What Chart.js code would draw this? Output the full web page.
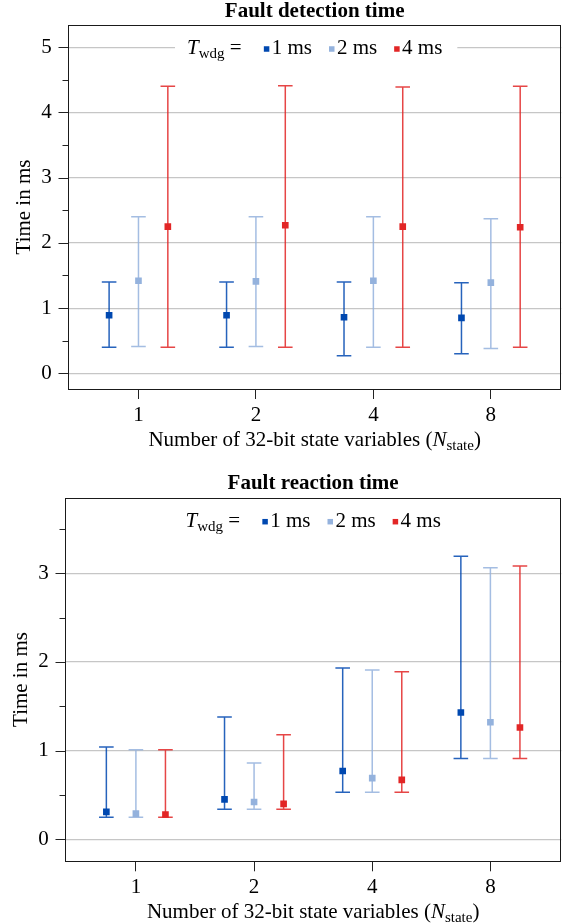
<!DOCTYPE html>
<html>
<head>
<meta charset="utf-8">
<title>Fault detection and reaction time</title>
<script src="https://cdn.jsdelivr.net/npm/chart.js@4.4.1/dist/chart.umd.min.js"></script>
<style>
  body { margin: 0; background: #fff; }
  canvas { display: block; }
</style>
</head>
<body>
<canvas id="det-graph" width="566" height="462"></canvas>
<canvas id="rea-graph" width="566" height="462"></canvas>
<script>
// N_state categories and watchdog periods
var categories = ['1', '2', '4', '8'];
var seriesLabels = ['1 ms', '2 ms', '4 ms'];

// fault detection time (ms): mean, min, max per T_wdg
var det1Mean = [0.89, 0.89, 0.86, 0.85];
var det1Min  = [0.40, 0.40, 0.27, 0.30];
var det1Max  = [1.40, 1.40, 1.40, 1.39];
var det2Mean = [1.42, 1.41, 1.42, 1.39];
var det2Min  = [0.41, 0.41, 0.40, 0.38];
var det2Max  = [2.40, 2.40, 2.40, 2.37];
var det4Mean = [2.25, 2.27, 2.25, 2.24];
var det4Min  = [0.40, 0.40, 0.40, 0.40];
var det4Max  = [4.40, 4.41, 4.39, 4.40];

// fault reaction time (ms)
var rea1Mean = [0.31, 0.45, 0.77, 1.43];
var rea1Min  = [0.25, 0.34, 0.53, 0.91];
var rea1Max  = [1.04, 1.38, 1.93, 3.19];
var rea2Mean = [0.29, 0.42, 0.69, 1.32];
var rea2Min  = [0.25, 0.34, 0.53, 0.91];
var rea2Max  = [1.01, 0.86, 1.91, 3.06];
var rea4Mean = [0.28, 0.40, 0.67, 1.26];
var rea4Min  = [0.25, 0.34, 0.53, 0.91];
var rea4Max  = [1.01, 1.18, 1.89, 3.08];

// y axis ticks
var detMajor = [0, 1, 2, 3, 4, 5];
var detMinor = [0.5, 1.5, 2.5, 3.5, 4.5];
var reaMajor = [0, 1, 2, 3];
var reaMinor = [0.5, 1.5, 2.5, 3.5];

var seriesOffsets = [-0.25, 0, 0.25];
var markerColors = ['rgb(0,72,176)', 'rgb(148,178,221)', 'rgb(226,38,38)'];
var barColors = ['rgba(0,72,176,0.85)', 'rgba(148,178,221,0.85)', 'rgba(226,38,38,0.85)'];
var serif = '"Liberation Serif", "DejaVu Serif", serif';

Chart.defaults.font.family = serif;
Chart.defaults.color = '#000';

function drawParts(ctx, parts, x, y) {
  parts.forEach(function (p) {
    ctx.font = p.font;
    ctx.fillText(p.text, x, y + (p.dy || 0));
    x += ctx.measureText(p.text).width;
  });
}

function partsWidth(ctx, parts) {
  var w = 0;
  parts.forEach(function (p) {
    ctx.font = p.font;
    w += ctx.measureText(p.text).width;
  });
  return w;
}

function makeFrame(cfg) {
  return {
    id: 'frame',
    beforeDatasetsDraw: function (chart) {
      var ctx = chart.ctx, xs = chart.scales.x, ys = chart.scales.y;
      ctx.save();
      ctx.lineWidth = 1.5;
      cfg.means.forEach(function (m, s) {
        ctx.strokeStyle = barColors[s];
        m.forEach(function (v, i) {
          var x = xs.getPixelForValue(i + seriesOffsets[s]);
          var lo = ys.getPixelForValue(cfg.mins[s][i]);
          var hi = ys.getPixelForValue(cfg.maxs[s][i]);
          ctx.beginPath();
          ctx.moveTo(x, lo); ctx.lineTo(x, hi);
          ctx.moveTo(x - 7.3, lo); ctx.lineTo(x + 7.3, lo);
          ctx.moveTo(x - 7.3, hi); ctx.lineTo(x + 7.3, hi);
          ctx.stroke();
        });
      });
      ctx.restore();
    },
    afterDraw: function (chart) {
      var ctx = chart.ctx, a = chart.chartArea, ys = chart.scales.y;
      var L = Math.round(a.left) + 0.5, R = Math.round(a.right) - 0.5;
      var T = Math.round(a.top) + 0.5, B = Math.round(a.bottom) + 0.5;
      var cx = (a.left + a.right) / 2;
      ctx.save();

      // y ticks outside the box
      ctx.strokeStyle = '#222';
      ctx.lineWidth = 1;
      ctx.beginPath();
      cfg.major.forEach(function (v) {
        var y = Math.round(ys.getPixelForValue(v)) + 0.5;
        ctx.moveTo(L - 10, y); ctx.lineTo(L, y);
      });
      cfg.minor.forEach(function (v) {
        var y = Math.round(ys.getPixelForValue(v)) + 0.5;
        ctx.moveTo(L - 6, y); ctx.lineTo(L, y);
      });
      ctx.stroke();

      // legend
      var big = '21px ' + serif, sub = '15px ' + serif, it = 'italic 21px ' + serif;
      var head = [{ text: 'T', font: it }, { text: 'wdg', font: sub, dy: 4 }, { text: ' = ', font: big }];
      var w = partsWidth(ctx, head);
      ctx.font = big;
      seriesLabels.forEach(function (lab) { w += 17 + 5.5 + 2.4 + ctx.measureText(lab).width; });
      var lx = cx - w / 2, ly = a.top + 24;
      ctx.fillStyle = '#fff';
      ctx.fillRect(lx - 12, ly - 12, w + 27, 25);
      ctx.fillStyle = '#000';
      ctx.textBaseline = 'alphabetic';
      drawParts(ctx, head, lx, ly + 5);
      var x = lx + partsWidth(ctx, head);
      seriesLabels.forEach(function (lab, s) {
        x += 17;
        ctx.fillStyle = markerColors[s];
        ctx.fillRect(x, ly - 2.75, 5.5, 5.5);
        x += 5.5 + 2.4;
        ctx.fillStyle = '#000';
        ctx.font = big;
        ctx.fillText(lab, x, ly + 5);
        x += ctx.measureText(lab).width;
      });

      // box
      ctx.strokeStyle = '#1a1a1a';
      ctx.lineWidth = 1;
      ctx.strokeRect(L, T, R - L, B - T);

      // title
      ctx.fillStyle = '#000';
      ctx.font = 'bold 21px ' + serif;
      ctx.textAlign = 'center';
      ctx.fillText(cfg.title, cx, a.top - 8.5);

      // y title
      ctx.save();
      ctx.translate(cfg.yTitleX, (a.top + a.bottom) / 2);
      ctx.rotate(-Math.PI / 2);
      ctx.font = big;
      ctx.fillText('Time in ms', 0, 0);
      ctx.restore();

      // x title
      ctx.textAlign = 'left';
      var xt = [
        { text: 'Number of 32-bit state variables (', font: big },
        { text: 'N', font: it },
        { text: 'state', font: sub, dy: 4 },
        { text: ')', font: big }
      ];
      drawParts(ctx, xt, cx - partsWidth(ctx, xt) / 2, a.bottom + 56.5);
      ctx.restore();
    }
  };
}

function makeChart(id, cfg) {
  var ctx = document.getElementById(id).getContext('2d');
  var datasets = cfg.means.map(function (m, s) {
    return {
      label: seriesLabels[s],
      data: m.map(function (v, i) { return { x: i + seriesOffsets[s], y: v }; }),
      backgroundColor: markerColors[s],
      borderWidth: 0,
      pointStyle: 'rect',
      pointRadius: 4.7,
      pointHoverRadius: 4.7
    };
  });
  return new Chart(ctx, {
    type: 'scatter',
    data: { datasets: datasets },
    options: {
      responsive: false,
      animation: false,
      devicePixelRatio: 1,
      layout: { padding: { top: cfg.top, right: cfg.right, left: 0, bottom: 0 } },
      plugins: { legend: { display: false }, tooltip: { enabled: false } },
      scales: {
        x: {
          type: 'linear',
          min: -0.6,
          max: 3.6,
          afterBuildTicks: function (axis) {
            axis.ticks = categories.map(function (c, i) { return { value: i }; });
          },
          afterFit: function (axis) {
            axis.height = cfg.xHeight;
            axis.paddingLeft = 0;
            axis.paddingRight = 0;
          },
          ticks: {
            callback: function (v) { return categories[v]; },
            autoSkip: false,
            maxRotation: 0,
            padding: 4,
            font: { size: 21 }
          },
          grid: { drawOnChartArea: false, drawTicks: true, tickLength: 10, tickColor: '#222', tickWidth: 1 },
          border: { display: false }
        },
        y: {
          min: cfg.yMin,
          max: cfg.yMax,
          afterBuildTicks: function (axis) {
            axis.ticks = cfg.major.map(function (v) { return { value: v }; });
          },
          afterFit: function (axis) {
            axis.width = cfg.left;
            axis.paddingTop = 0;
            axis.paddingBottom = 0;
          },
          ticks: { padding: 16.3, font: { size: 21 } },
          grid: { color: '#c6c6c6', lineWidth: 1.2, drawTicks: false },
          border: { display: false }
        }
      }
    },
    plugins: [makeFrame(cfg)]
  });
}

makeChart('det-graph', {
  title: 'Fault detection time',
  means: [det1Mean, det2Mean, det4Mean],
  mins: [det1Min, det2Min, det4Min],
  maxs: [det1Max, det2Max, det4Max],
  major: detMajor, minor: detMinor,
  yMin: -0.24, yMax: 5.34,
  left: 68, right: 1, top: 25, xHeight: 73,
  yTitleX: 30
});

makeChart('rea-graph', {
  title: 'Fault reaction time',
  means: [rea1Mean, rea2Mean, rea4Mean],
  mins: [rea1Min, rea2Min, rea4Min],
  maxs: [rea1Max, rea2Max, rea4Max],
  major: reaMajor, minor: reaMinor,
  yMin: -0.248, yMax: 3.851,
  left: 65, right: 4.5, top: 35.7, xHeight: 62.7,
  yTitleX: 26.5
});
</script>
</body>
</html>
